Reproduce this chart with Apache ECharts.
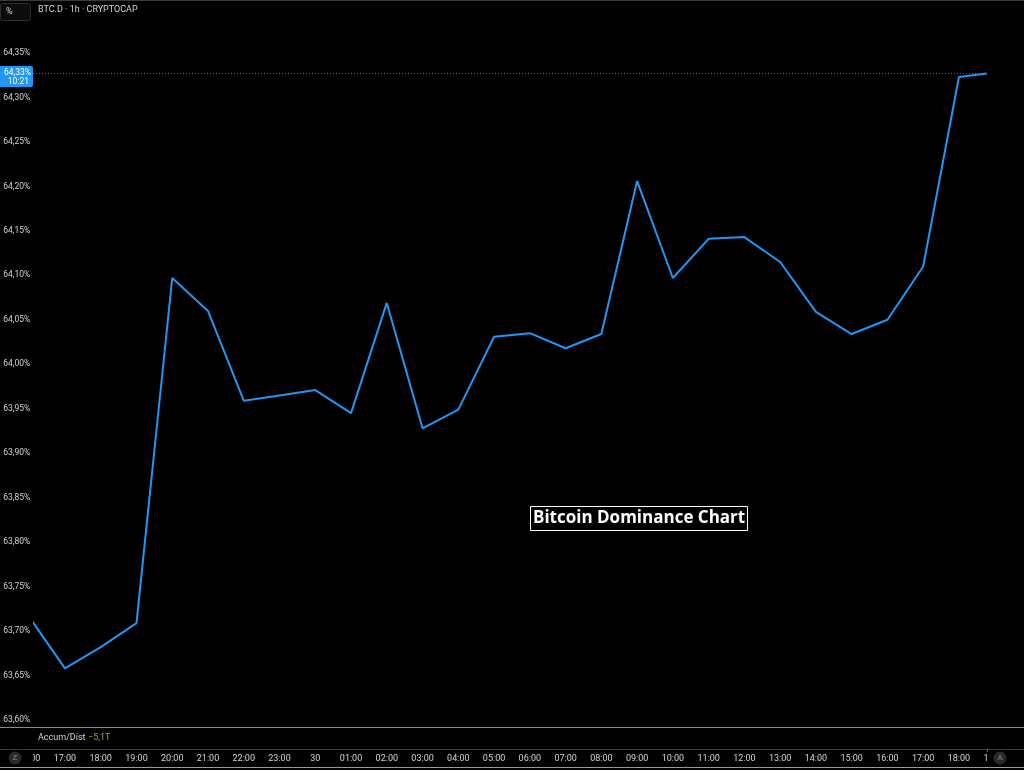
<!DOCTYPE html>
<html>
<head>
<meta charset="utf-8">
<script src="https://cdn.jsdelivr.net/npm/echarts@6/dist/echarts.min.js"></script>
<style>
html,body{margin:0;padding:0;background:#000;}
#chart{width:1024px;height:770px;}
</style>
</head>
<body>
<div id="chart"></div>
<script>
// hour of the series (16 = 16:00 of day 29, 24 = 00:00 of day 30, ...)
const hours = [16,17,18,19,20,21,22,23,24,25,26,27,28,29,30,31,32,33,34,35,36,37,38,39,40,41,42,42.78];
const dominance = [63.716,63.658,63.682,63.709,64.097,64.060,63.959,63.965,63.971,63.945,64.069,63.928,63.949,64.031,64.035,64.018,64.034,64.206,64.097,64.141,64.143,64.115,64.059,64.034,64.050,64.110,64.323,64.327];
const dayLabel = '30';
const yTicks = {min: 63.60, max: 64.35, step: 0.05};
const countdown = '10:21';
const headerText = 'BTC.D · 1h · CRYPTOCAP';
const chartTitle = 'Bitcoin Dominance Chart';
const indicatorName = 'Accum/Dist';
const indicatorValue = '\u22125,1T';

const FONT = 'Roboto';
const chart = echarts.init(document.getElementById('chart'));

function hourLabel(h){
  const hh = ((h % 24) + 24) % 24;
  if (Math.abs(hh) < 1e-6) return dayLabel;
  return (hh < 10 ? '0' : '') + Math.round(hh) + ':00';
}

const option = {
  backgroundColor: '#000000',
  animation: false,
  title: {
    text: chartTitle,
    left: 530, top: 506,
    padding: [3, 3, 3, 3],
    borderColor: '#ffffff', borderWidth: 1,
    textStyle: {color: '#ffffff', fontFamily: 'Open Sans', fontSize: 17, fontWeight: 'bold', lineHeight: 19}
  },
  grid: {left: 29.2, right: 29.3, top: 53, bottom: 50},
  xAxis: {
    type: 'value', min: 16, max: 43, interval: 1,
    axisLine: {show: false}, axisTick: {show: false}, splitLine: {show: false},
    axisLabel: {
      color: '#d1d4dc', fontFamily: FONT, fontSize: 9, margin: 34,
      formatter: hourLabel, showMinLabel: true, showMaxLabel: true, hideOverlap: false
    }
  },
  yAxis: {
    type: 'value', min: yTicks.min, max: yTicks.max, interval: yTicks.step, z: 10,
    axisLine: {show: false}, axisTick: {show: false}, splitLine: {show: false},
    axisLabel: {
      color: '#d1d4dc', fontFamily: FONT, fontSize: 8.5, align: 'left', margin: 26,
      formatter: v => v.toFixed(2).replace('.', ',') + '%'
    }
  },
  series: [{
    type: 'line', z: 2,
    data: hours.map((h, i) => [h, dominance[i]]),
    showSymbol: false, symbol: 'none',
    lineStyle: {color: '#2196f3', width: 2},
    clip: true
  }]
};
chart.setOption(option);

const last = dominance[dominance.length - 1];
const lastPt = chart.convertToPixel({gridIndex: 0}, [hours[hours.length - 1], last]);
const ly = lastPt[1];

chart.setOption({
  graphic: [
    // cover left of plot (price scale area)
    {type: 'rect', z: 5, shape: {x: 0, y: 0, width: 33, height: 727}, style: {fill: '#000'}},
    // top border
    {type: 'line', z: 6, shape: {x1: 0, y1: 0.5, x2: 1024, y2: 0.5}, style: {stroke: '#3a3a3a', lineWidth: 1}},
    // header
    {type: 'rect', z: 20, shape: {x: 0.5, y: 3.5, width: 30, height: 17, r: 2}, style: {fill: '#0c0c0c', stroke: '#2e2e2e', lineWidth: 1}},
    {type: 'text', z: 21, x: 6, y: 12, style: {text: '%', fill: '#d1d4dc', font: '9px Roboto', verticalAlign: 'middle'}},
    {type: 'text', z: 21, x: 38, y: 10, style: {text: headerText, fill: '#d1d4dc', font: '9px Roboto', verticalAlign: 'middle'}},
    // last price dotted line
    {type: 'line', z: 4, shape: {x1: 33, y1: Math.round(ly) + 0.5, x2: lastPt[0], y2: Math.round(ly) + 0.5}, style: {stroke: '#2196f3', lineWidth: 1, lineDash: [1, 2], opacity: 0.8}},
    // last price box
    {type: 'rect', z: 30, shape: {x: 0, y: ly - 7.5, width: 33, height: 21, r: [0, 2, 2, 0]}, style: {fill: '#2196f3'}},
    {type: 'text', z: 31, x: 31, y: ly - 0.5, style: {text: last.toFixed(2).replace('.', ',') + '%', fill: '#ffffff', font: '8.5px Roboto', align: 'right', verticalAlign: 'middle'}},
    {type: 'text', z: 31, x: 29, y: ly + 8.5, style: {text: countdown, fill: '#ffffff', font: '8.5px Roboto', align: 'right', verticalAlign: 'middle'}},
    // pane separators
    {type: 'line', z: 6, shape: {x1: 0, y1: 727.5, x2: 1024, y2: 727.5}, style: {stroke: '#8a8a8a', lineWidth: 1}},
    {type: 'line', z: 6, shape: {x1: 0, y1: 749.5, x2: 1024, y2: 749.5}, style: {stroke: '#3c3c3c', lineWidth: 1}},
    {type: 'line', z: 6, shape: {x1: 0, y1: 767.5, x2: 1024, y2: 767.5}, style: {stroke: '#9a9a9a', lineWidth: 1}},
    // indicator legend
    {type: 'text', z: 21, x: 38, y: 738, style: {text: indicatorName, fill: '#d1d4dc', font: '9px Roboto', verticalAlign: 'middle'}},
    {type: 'text', z: 21, x: 88, y: 738, style: {text: indicatorValue, fill: '#a3a31c', font: '9px Roboto', verticalAlign: 'middle'}},
    // time axis corner covers
    {type: 'rect', z: 20, shape: {x: 0, y: 750, width: 33, height: 17}, style: {fill: '#000'}},
    {type: 'rect', z: 20, shape: {x: 989, y: 750, width: 35, height: 17}, style: {fill: '#000'}},
    {type: 'circle', z: 21, shape: {cx: 15, cy: 758, r: 6.5}, style: {fill: '#2a2a2a'}},
    {type: 'text', z: 22, x: 15, y: 758, style: {text: 'Z', fill: '#8a8a8a', font: '8px Roboto', align: 'center', verticalAlign: 'middle'}},
    {type: 'circle', z: 21, shape: {cx: 1000, cy: 758, r: 6.5}, style: {fill: '#2a2a2a'}},
    {type: 'text', z: 22, x: 1000, y: 758, style: {text: 'A', fill: '#8a8a8a', font: '8px Roboto', align: 'center', verticalAlign: 'middle'}},
    {type: 'line', z: 21, shape: {x1: lastPt[0] + 0.5, y1: 749, x2: lastPt[0] + 0.5, y2: 752}, style: {stroke: '#6a6a6a', lineWidth: 1}}
  ]
});
</script>
</body>
</html>
